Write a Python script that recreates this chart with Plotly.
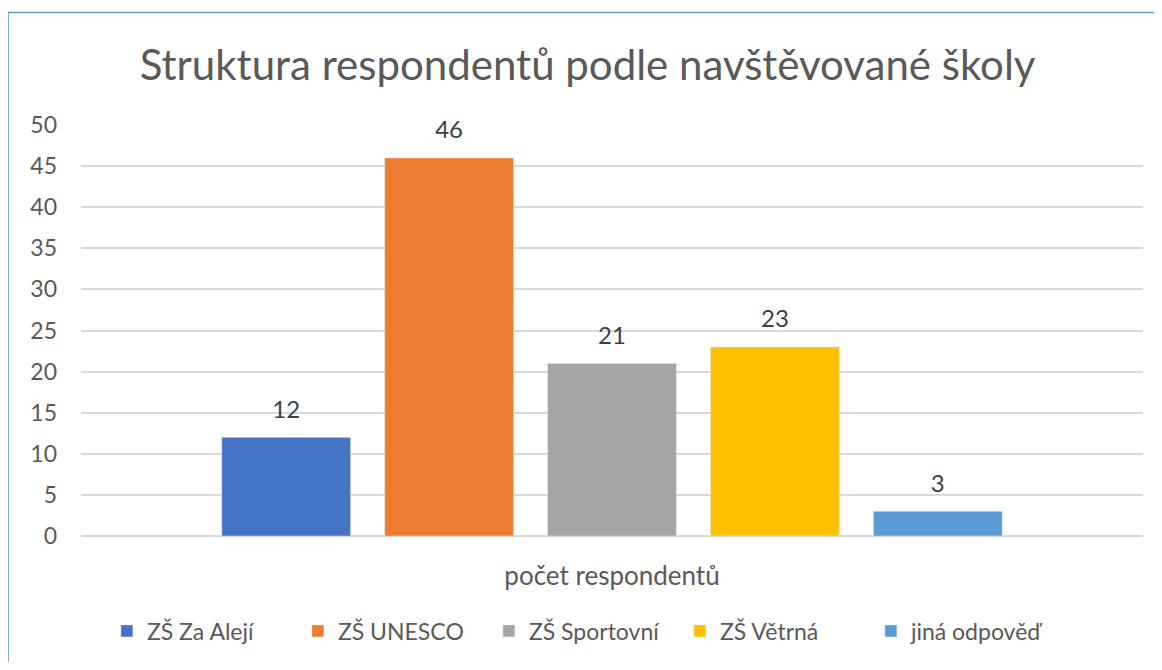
import plotly.graph_objects as go

title = "Struktura respondentů podle navštěvované školy"
category = ["počet respondentů"]
schools = ["ZŠ Za Alejí", "ZŠ UNESCO", "ZŠ Sportovní", "ZŠ Větrná", "jiná odpověď"]
counts = [12, 46, 21, 23, 3]
colors = ["#4472C4", "#ED7D31", "#A5A5A5", "#FFC000", "#5B9BD5"]
y_ticks = [0, 5, 10, 15, 20, 25, 30, 35, 40, 45, 50]

FONT = "Lato"
W, H = 1146, 654

fig = go.Figure()
for i, (name, val, col) in enumerate(zip(schools, counts, colors)):
    fig.add_trace(go.Bar(
        x=category, y=[val], name=name, marker_color=col,
        offsetgroup=str(i), hoverinfo="skip",
    ))
for i, (name, val) in enumerate(zip(schools, counts)):
    fig.add_trace(go.Scatter(
        x=category, y=[val], mode="markers+text", text=[str(val)],
        textposition="top center", offsetgroup=str(i),
        marker=dict(size=20, opacity=0, color="white"),
        textfont=dict(family=FONT, size=24, color="#404040"),
        showlegend=False, cliponaxis=False, hoverinfo="skip",
    ))

fig.update_layout(
    width=W, height=H,
    paper_bgcolor="white", plot_bgcolor="white",
    margin=dict(l=73, r=11, t=117, b=125),
    barmode="group", bargap=0.233, bargroupgap=0.209,
    scattermode="group", scattergap=0.233,
    title=dict(text=title, x=0.477, xref="paper", xanchor="center", y=0.913, yanchor="middle",
               font=dict(family=FONT, size=42, color="#595959")),
    font=dict(family=FONT, color="#595959"),
    legend=dict(orientation="h", x=0.474, xanchor="center", y=-0.228, yanchor="middle",
                font=dict(family=FONT, size=23, color="#595959"),
                itemwidth=30, traceorder="normal", entrywidth=146),
    showlegend=True,
)
fig.update_yaxes(range=[0, 50], tickvals=y_ticks, showgrid=True, gridcolor="#D9D9D9",
                 gridwidth=2, zeroline=True, zerolinecolor="#D9D9D9", zerolinewidth=2,
                 tickfont=dict(family=FONT, size=23, color="#595959"),
                 ticklabelstandoff=23, showline=False)
fig.update_xaxes(showline=False, tickfont=dict(family=FONT, size=26, color="#595959"),
                 ticklabelstandoff=22)
fig.add_shape(type="rect", xref="paper", yref="paper",
              x0=-0.0687, x1=1.2, y0=-0.5, y1=1.274,
              line=dict(color="#5B9BD5", width=1.5), fillcolor="rgba(0,0,0,0)", layer="below")

fig.write_html("out.html")
